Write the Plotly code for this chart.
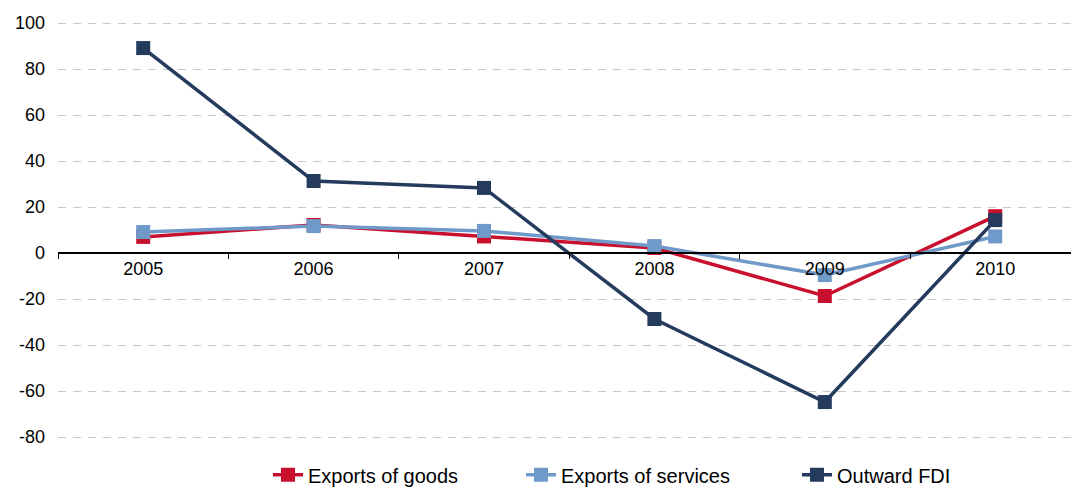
import plotly.graph_objects as go

years = ["2005", "2006", "2007", "2008", "2009", "2010"]
exports_goods = [7.0, 12.2, 7.2, 2.2, -18.7, 16.0]
exports_services = [9.1, 11.7, 9.6, 3.0, -9.6, 7.2]
outward_fdi = [89.1, 31.3, 28.3, -28.7, -64.8, 14.3]
y_ticks = [100, 80, 60, 40, 20, 0, -20, -40, -60, -80]
y_tick_text = ["100", "80", "60", "40", "20", "0", "-20", "-40", "-60", "-80"]

series = [
    ("Exports of goods", exports_goods, "#C8102E", "legend"),
    ("Exports of services", exports_services, "#6F99C8", "legend2"),
    ("Outward FDI", outward_fdi, "#243B5E", "legend3"),
]

fig = go.Figure()
for name, vals, col, leg in series:
    fig.add_trace(go.Scatter(
        x=years, y=vals, name=name, mode="lines+markers",
        line=dict(color=col, width=3.5),
        marker=dict(symbol="square", size=14, color=col),
        legend=leg,
    ))

y_min, y_max = -90, 110
zero_pos = (0 - y_min) / (y_max - y_min)

plot_left, plot_width = 58, 1013
legend_lefts = [268, 521, 797]
legend_y = -0.032


def leg(px):
    return dict(
        orientation="h", x=(px - plot_left) / plot_width, xanchor="left",
        y=legend_y, yanchor="middle", font=dict(size=20),
        bgcolor="rgba(0,0,0,0)",
    )


fig.update_layout(
    width=1071, height=488,
    margin=dict(l=plot_left, r=0, t=0, b=28, autoexpand=False),
    paper_bgcolor="white", plot_bgcolor="white",
    font=dict(family="Liberation Sans, Arial, sans-serif", size=18, color="#000000"),
    showlegend=True,
    legend=leg(legend_lefts[0]),
    legend2=leg(legend_lefts[1]),
    legend3=leg(legend_lefts[2]),
    xaxis=dict(
        type="category", range=[-0.5, -0.5 + plot_width / 170.4],
        anchor="free", position=zero_pos,
        showline=True, linecolor="#000000", linewidth=1.5,
        ticks="outside", tickson="boundaries", ticklen=5, tickcolor="#000000",
        showgrid=False, zeroline=False,
        tickfont=dict(size=18),
    ),
    yaxis=dict(
        range=[y_min, y_max], tickvals=y_ticks, ticktext=y_tick_text,
        showgrid=True, gridcolor="#C8C8C8", gridwidth=1.3, griddash="8px,7px",
        zeroline=False, showline=False, ticks="",
        ticklabelstandoff=12, tickfont=dict(size=18),
    ),
)

fig.write_html("out.html")
